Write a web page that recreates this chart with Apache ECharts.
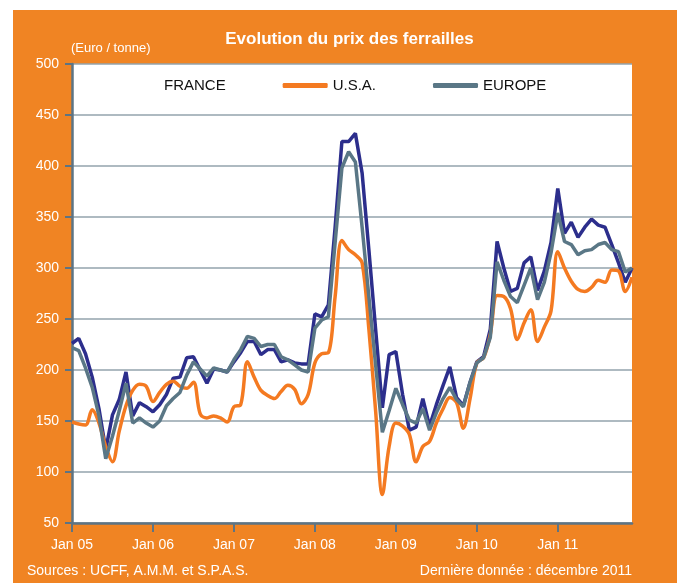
<!DOCTYPE html>
<html>
<head>
<meta charset="utf-8">
<script src="https://cdn.jsdelivr.net/npm/echarts@6/dist/echarts.min.js"></script>
<style>
html,body{margin:0;padding:0;background:#fff;width:682px;height:583px;overflow:hidden;}
#c{position:absolute;left:13px;top:10px;width:664px;height:573px;}
</style>
</head>
<body>
<div id="c"></div>
<script>
// ---- data (€/tonne, monthly Jan 2005 – Dec 2011) ----
var monthNames = ['Jan','Feb','Mar','Apr','May','Jun','Jul','Aug','Sep','Oct','Nov','Dec'];
var years = ['05','06','07','08','09','10','11'];
var yTicks = {min: 50, max: 500, step: 50};

var france = [
  226, 231, 216, 193, 162, 122, 156, 171, 198, 155, 168, 164,
  159, 166, 176, 192, 193, 212, 213, 200, 187, 201, 200, 198,
  208, 217, 228, 228, 215, 220, 220, 208, 210, 207, 206, 206,
  255, 252, 264, 340, 424, 424, 432, 393, 318, 240, 163, 215,
  218, 176, 141, 144, 172, 145, 166, 185, 203, 173, 165, 188,
  208, 213, 240, 326, 300, 277, 280, 305, 311, 278, 297, 325,
  378, 334, 345, 330, 340, 348, 342, 340, 323, 305, 286, 300
];
var usa = [
  149, 147, 146, 161, 148, 125, 110, 140, 165, 180, 186, 184,
  169, 178, 186, 189, 184, 182, 188, 157, 153, 155, 153, 149,
  164, 166, 208, 193, 180, 175, 172, 179, 185, 181, 167, 176,
  207, 216, 217, 272, 327, 318, 313, 305, 240, 160, 78, 125,
  148, 145, 137, 110, 125, 130, 148, 162, 173, 168, 143, 172,
  207, 212, 235, 273, 272, 260, 230, 246, 259, 228, 242, 258,
  316, 300, 287, 279, 277, 281, 288, 286, 298, 297, 277, 291
];
var europe = [
  222, 219, 202, 183, 155, 113, 135, 160, 187, 148, 153, 148,
  144, 150, 165, 172, 178, 195, 208, 201, 194, 202, 200, 198,
  210, 220, 233, 231, 223, 225, 225, 213, 210, 205, 200, 198,
  241, 249, 252, 325, 398, 414, 404, 340, 272, 205, 139, 160,
  182, 166, 151, 148, 162, 141, 158, 172, 183, 171, 164, 188,
  207, 212, 232, 306, 288, 272, 266, 283, 300, 269, 286, 315,
  354, 326, 323, 313, 317, 318, 323, 325, 318, 316, 296, 300
];

var categories = [];
years.forEach(function (y) { monthNames.forEach(function (m) { categories.push(m + ' ' + y); }); });

var FONT = '"Liberation Sans", Arial, Helvetica, sans-serif';
var WHITE = '#ffffff';
var AXIS = '#5d7484';

var chart = echarts.init(document.getElementById('c'), null, {renderer: 'canvas'});
chart.setOption({
  backgroundColor: '#f08423',
  animation: false,
  grid: {left: 59, top: 54, right: 45, bottom: 60, show: true, backgroundColor: '#ffffff', borderWidth: 0},
  legend: {
    left: 96, top: 63,
    itemWidth: 45, itemHeight: 5, itemGap: 57,
    textStyle: {color: '#111', fontSize: 15, fontFamily: FONT},
    data: [
      {name: 'FRANCE', icon: 'roundRect', itemStyle: {opacity: 0}, lineStyle: {opacity: 0}},
      {name: 'U.S.A.', icon: 'roundRect'},
      {name: 'EUROPE', icon: 'roundRect'}
    ]
  },
  xAxis: {
    type: 'category',
    data: categories,
    boundaryGap: false,
    axisLine: {lineStyle: {color: AXIS, width: 2.5}},
    axisTick: {show: true, length: 9, lineStyle: {color: AXIS, width: 2}, interval: function (i) { return i % 12 === 0; }},
    axisLabel: {color: WHITE, fontSize: 14, fontFamily: FONT, margin: 15,
      interval: function (i) { return i % 12 === 0; }},
    splitLine: {show: false}
  },
  yAxis: {
    type: 'value',
    min: yTicks.min, max: yTicks.max, interval: yTicks.step,
    axisLine: {show: true, lineStyle: {color: AXIS, width: 2.5}},
    axisTick: {show: true, length: 7, lineStyle: {color: AXIS, width: 2}},
    axisLabel: {color: WHITE, fontSize: 14, fontFamily: FONT, margin: 13},
    splitLine: {lineStyle: {color: '#93a3ad', width: 1.5}}
  },
  graphic: [
    {type: 'text', x: 336.5, y: 29, style: {text: 'Evolution du prix des ferrailles', fill: WHITE,
      font: 'bold 17px ' + FONT, textAlign: 'center', textVerticalAlign: 'middle'}},
    {type: 'text', x: 58, y: 38, style: {text: '(Euro / tonne)', fill: WHITE,
      font: '13px ' + FONT, textAlign: 'left', textVerticalAlign: 'middle'}},
    {type: 'text', x: 14, y: 561, style: {text: 'Sources : UCFF, A.M.M. et S.P.A.S.', fill: WHITE,
      font: '14px ' + FONT, textAlign: 'left', textVerticalAlign: 'middle'}},
    {type: 'text', x: 619, y: 561, style: {text: 'Dernière donnée : décembre 2011', fill: WHITE,
      font: '14px ' + FONT, textAlign: 'right', textVerticalAlign: 'middle'}}
  ],
  series: [
    {name: 'FRANCE', type: 'line', data: france, symbol: 'none', z: 3,
      lineStyle: {color: '#2c2e8c', width: 3.5}, itemStyle: {color: '#2c2e8c'}},
    {name: 'U.S.A.', type: 'line', data: usa, symbol: 'none', smooth: 0.35, z: 4,
      lineStyle: {color: '#f47a21', width: 3.5}, itemStyle: {color: '#f47a21'}},
    {name: 'EUROPE', type: 'line', data: europe, symbol: 'none', z: 5,
      lineStyle: {color: '#5a7786', width: 3.5}, itemStyle: {color: '#5a7786'}}
  ]
});
</script>
</body>
</html>
